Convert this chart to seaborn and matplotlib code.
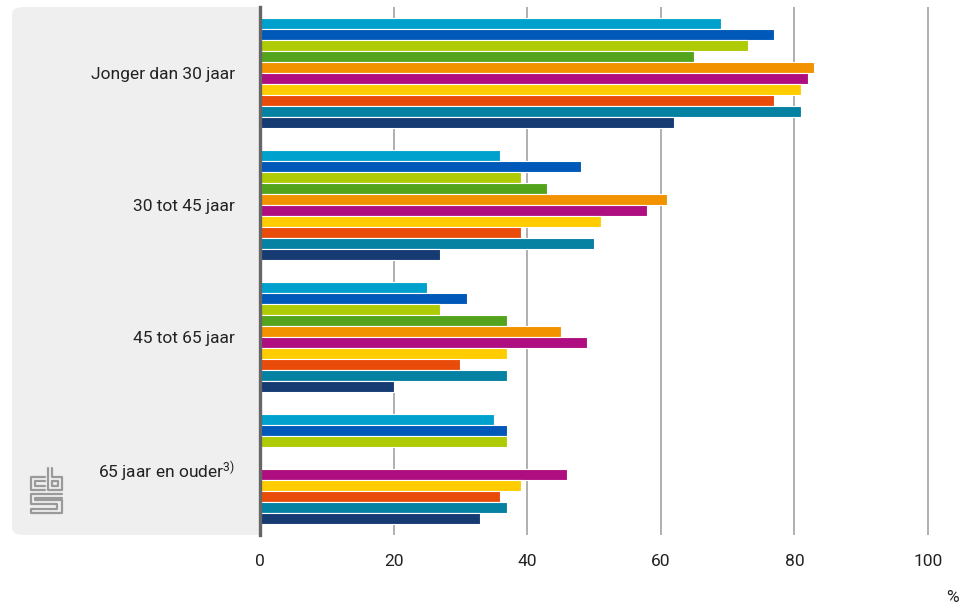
import matplotlib
matplotlib.use("Agg")
import matplotlib.pyplot as plt
from matplotlib.patches import FancyBboxPatch
from matplotlib.lines import Line2D
import seaborn as sns
import pandas as pd
import numpy as np

# age groups (rows) and the ten series shown per group
groups = ['Jonger dan 30 jaar', '30 tot 45 jaar', '45 tot 65 jaar',
          '65 jaar en ouder$^{3)}$']
series = ['Reeks 1', 'Reeks 2', 'Reeks 3', 'Reeks 4', 'Reeks 5',
          'Reeks 6', 'Reeks 7', 'Reeks 8', 'Reeks 9', 'Reeks 10']
colors = ['#00A1CD', '#0058B8', '#AFCB05', '#53A31D', '#F39200',
          '#AF0E80', '#FFCC00', '#E94C0A', '#0581A2', '#163A72']

jonger_30 = [69, 77, 73, 65, 83, 82, 81, 77, 81, 62]
tot_45 = [36, 48, 39, 43, 61, 58, 51, 39, 50, 27]
tot_65 = [25, 31, 27, 37, 45, 49, 37, 30, 37, 20]
ouder_65 = [35, 37, 37, np.nan, np.nan, 46, 39, 36, 37, 33]

rows = []
for g, vals in zip(groups, [jonger_30, tot_45, tot_65, ouder_65]):
    for s, v in zip(series, vals):
        rows.append({'groep': g, 'reeks': s, 'waarde': v})
df = pd.DataFrame(rows)

sns.set_style('white')
plt.rcParams['font.family'] = ['Roboto', 'DejaVu Sans']
plt.rcParams['mathtext.default'] = 'regular'

W, H = 968, 610
fig = plt.figure(figsize=(W / 100, H / 100), dpi=100)

def fx(px):
    return px / W

def fy(py):
    return 1 - py / H

# grey label panel with rounded corners
panel = FancyBboxPatch((fx(12), fy(535)), fx(275) - fx(12), fy(7) - fy(535),
                       boxstyle='round,pad=0,rounding_size=0.012',
                       transform=fig.transFigure, facecolor='#EFEFEF',
                       edgecolor='none', zorder=-5)
fig.add_artist(panel)

ax = fig.add_axes([fx(260), fy(535), fx(968) - fx(260), fy(7) - fy(535)])
sns.barplot(data=df, y='groep', x='waarde', hue='reeks', hue_order=series,
            order=groups, palette=colors, saturation=1, orient='h', width=0.84,
            edgecolor='white', linewidth=0.8, legend=False, ax=ax, zorder=3)

ax.set_facecolor('white')
ax.set_xlim(0, (968 - 260) / 6.68)
ax.set_ylim(3.5, -0.5)
ax.set_xticks([0, 20, 40, 60, 80, 100])
ax.set_xticklabels(['0', '20', '40', '60', '80', '100'])
ax.grid(False)
for t in [20, 40, 60, 80, 100]:
    ax.axvline(t, color='#9A9A9A', lw=1.1, zorder=1)
for sp in ['top', 'right', 'bottom']:
    ax.spines[sp].set_visible(False)
ax.spines['left'].set_color('#666666')
ax.spines['left'].set_linewidth(2.4)
ax.spines['left'].set_zorder(5)
ax.set_xlabel('')
ax.set_ylabel('')
ax.tick_params(axis='x', length=0, pad=14, labelsize=12.5, labelcolor='#222222')
ax.tick_params(axis='y', length=0, pad=18, labelsize=12.5, labelcolor='#222222')

fig.text(fx(952), fy(597), '%', ha='center', va='center', fontsize=12.5,
         color='#222222')

# simplified cbs logo
logo = [
    [(45, 477), (31, 477), (31, 490), (45, 490)],
    [(45, 481), (35, 481), (35, 486), (45, 486)],
    [(48, 468), (48, 490), (62, 490), (62, 477), (52, 477), (52, 468)],
    [(52, 481), (58, 481), (58, 486), (52, 486), (52, 481)],
    [(62, 494), (31, 494), (31, 504), (57, 504), (57, 509), (31, 509),
     (31, 513), (62, 513), (62, 500), (35, 500), (35, 498), (62, 498)],
]
for path in logo:
    xs = [fx(p[0]) for p in path]
    ys = [fy(p[1]) for p in path]
    fig.add_artist(Line2D(xs, ys, transform=fig.transFigure,
                          color='#9A9A9A', lw=1.6))

fig.savefig('out.png', dpi=100)
